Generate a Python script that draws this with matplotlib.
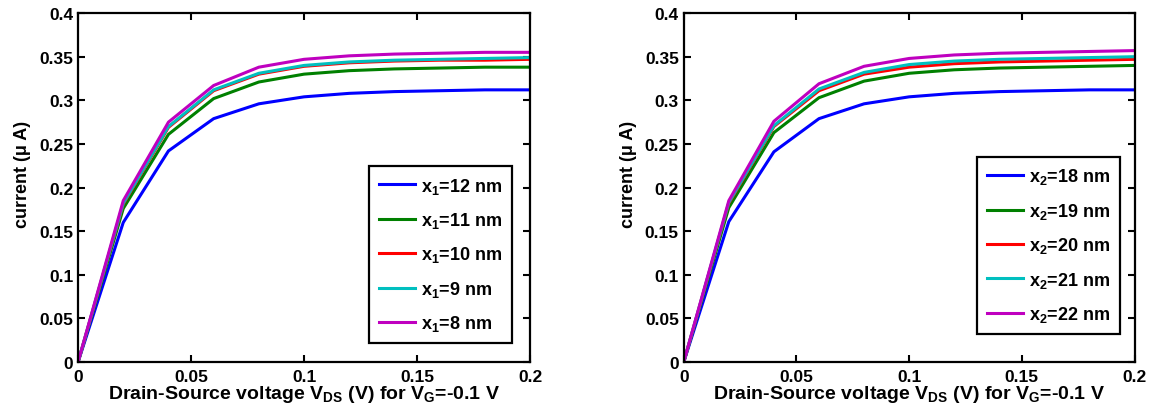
import matplotlib
matplotlib.use("Agg")
import matplotlib.pyplot as plt

# Drain-source voltage sweep (V)
vds = [0, 0.02, 0.04, 0.06, 0.08, 0.10, 0.12, 0.14, 0.16, 0.18, 0.20]

# Left panel: current (uA) for x1 = 12..8 nm
left_labels = ["12", "11", "10", "9", "8"]
left_12 = [0, 0.160, 0.242, 0.279, 0.296, 0.304, 0.308, 0.310, 0.311, 0.312, 0.312]
left_11 = [0, 0.176, 0.261, 0.302, 0.321, 0.330, 0.334, 0.336, 0.337, 0.338, 0.338]
left_10 = [0, 0.181, 0.269, 0.311, 0.330, 0.339, 0.343, 0.345, 0.346, 0.346, 0.347]
left_9 = [0, 0.182, 0.270, 0.312, 0.331, 0.340, 0.344, 0.346, 0.347, 0.348, 0.349]
left_8 = [0, 0.185, 0.275, 0.317, 0.338, 0.347, 0.351, 0.353, 0.354, 0.355, 0.355]

# Right panel: current (uA) for x2 = 18..22 nm
right_labels = ["18", "19", "20", "21", "22"]
right_18 = [0, 0.161, 0.241, 0.279, 0.296, 0.304, 0.308, 0.310, 0.311, 0.312, 0.312]
right_19 = [0, 0.177, 0.263, 0.303, 0.322, 0.331, 0.335, 0.337, 0.338, 0.339, 0.340]
right_20 = [0, 0.182, 0.270, 0.311, 0.330, 0.338, 0.342, 0.344, 0.345, 0.346, 0.347]
right_21 = [0, 0.183, 0.271, 0.313, 0.332, 0.341, 0.345, 0.347, 0.348, 0.349, 0.350]
right_22 = [0, 0.185, 0.276, 0.319, 0.339, 0.348, 0.352, 0.354, 0.355, 0.356, 0.357]

x_ticks = [0, 0.05, 0.1, 0.15, 0.2]
x_ticklabels = ["0", "0.05", "0.1", "0.15", "0.2"]
y_ticks = [0, 0.05, 0.1, 0.15, 0.2, 0.25, 0.3, 0.35, 0.4]
y_ticklabels = ["0", "0.05", "0.1", "0.15", "0.2", "0.25", "0.3", "0.35", "0.4"]

colors = [(0, 0, 1), (0, 0.5, 0), (1, 0, 0), (0, 0.75, 0.75), (0.75, 0, 0.75)]

plt.rcParams["font.family"] = ["Liberation Sans", "DejaVu Sans"]
plt.rcParams["font.weight"] = "bold"
plt.rcParams["mathtext.fontset"] = "custom"
plt.rcParams["mathtext.rm"] = "Liberation Sans:bold"
plt.rcParams["mathtext.bf"] = "Liberation Sans:bold"
plt.rcParams["mathtext.it"] = "Liberation Sans:bold"
plt.rcParams["mathtext.default"] = "bf"


def draw_panel(ax, series, labels, var):
    for ys, lab, col in zip(series, labels, colors):
        ax.plot(vds, ys, color=col, linewidth=2.2, label=f"x$_{var}$={lab} nm")
    ax.set_xlim(0, 0.2)
    ax.set_ylim(0, 0.4)
    ax.set_xticks(x_ticks)
    ax.set_xticklabels(x_ticklabels)
    ax.set_yticks(y_ticks)
    ax.set_yticklabels(y_ticklabels)
    ax.tick_params(direction="in", length=5, width=1.5, top=True, right=True,
                   labelsize=12.5)
    ax.tick_params(axis="x", pad=5)
    ax.tick_params(axis="y", pad=3.5)
    for sp in ax.spines.values():
        sp.set_linewidth(1.6)
    ax.set_xlabel("Drain-Source voltage V$_{DS}$ (V) for V$_G$=-0.1 V",
                  fontsize=14, fontweight="bold", labelpad=-1)
    ax.set_ylabel("current (μ A)", fontsize=13, fontweight="bold")
    ax.yaxis.set_label_coords(-0.104, 0.54)


fig = plt.figure(figsize=(11.53, 4.14), dpi=100)
ax1 = fig.add_axes([0.0677, 0.123, 0.392, 0.843])
ax2 = fig.add_axes([0.593, 0.123, 0.391, 0.843])

draw_panel(ax1, [left_12, left_11, left_10, left_9, left_8], left_labels, "1")
draw_panel(ax2, [right_18, right_19, right_20, right_21, right_22], right_labels, "2")

for ax, anchor in [(ax1, (0.96, 0.054)), (ax2, (0.967, 0.080))]:
    leg = ax.legend(loc="lower right", bbox_to_anchor=anchor, borderaxespad=0,
                    fancybox=False, framealpha=1, edgecolor="black",
                    prop={"size": 13, "weight": "bold"}, handlelength=2.0,
                    handletextpad=0.3, labelspacing=0.8, borderpad=0.55)
    leg.get_frame().set_linewidth(1.6)

fig.savefig("out.png", dpi=100)
